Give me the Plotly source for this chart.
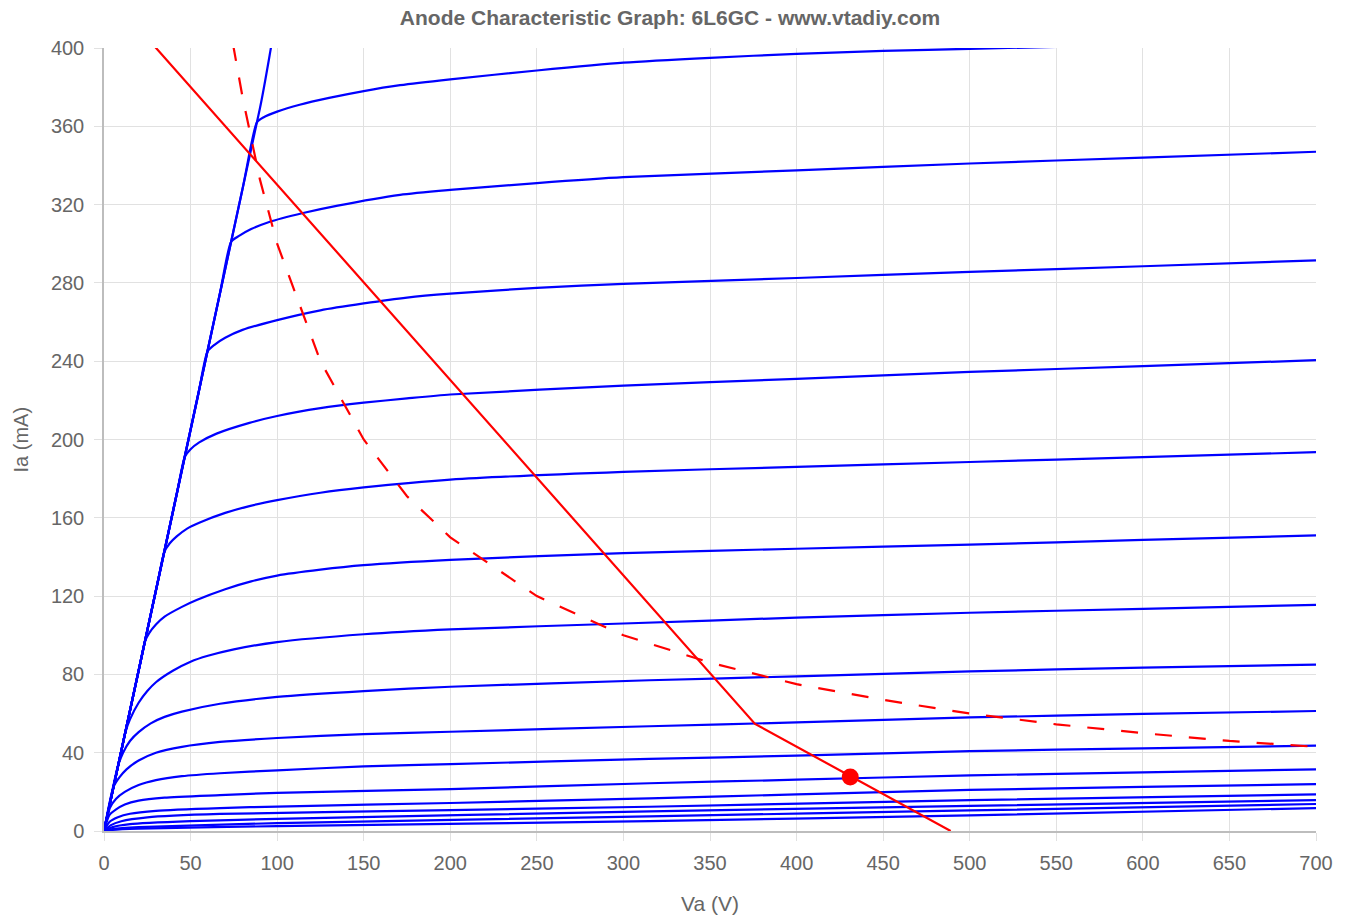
import plotly.graph_objects as go

# ---------------- data ----------------
# anode curves (Va in V, Ia in mA), top to bottom
va_c0 = [0, 90, 110, 130, 200, 700]
ia_c0 = [0, 369, 451, 460, 470, 500]

va_c1 = [0, 80, 88.3, 92, 100, 113, 130, 150, 171, 200, 250, 300, 350, 400, 450, 500, 600, 700]
ia_c1 = [0, 328, 362, 364.5, 367.5, 371, 374.5, 378, 381, 384, 388.5, 392.5, 395, 397, 398.5, 399.6, 401.5, 403.5]

va_c2 = [0, 67, 73.4, 78, 85, 95, 115, 135, 171, 200, 250, 300, 400, 500, 600, 700]
ia_c2 = [0, 275, 301, 304, 307.5, 311, 315.7, 319.5, 325, 327.5, 331, 334, 337.5, 341, 344, 347]

va_c3 = [0, 54, 59.8, 64, 70, 80, 100, 125, 150, 175, 200, 250, 300, 400, 500, 600, 700]
ia_c3 = [0, 221, 245, 248.5, 252, 256, 261, 266, 269.5, 272.5, 274.5, 277.5, 279.5, 282.5, 285.6, 288.5, 291.5]

va_c4 = [0, 42, 46.6, 50, 55, 65, 84, 100, 125, 150, 175, 200, 300, 400, 500, 600, 700]
ia_c4 = [0, 172, 191, 195, 198.5, 203, 208.5, 212, 216, 218.8, 221, 223, 227.5, 231, 234.5, 237.5, 240.5]

va_c5 = [0, 31, 34.8, 38, 42, 48, 55, 70, 84, 100, 125, 150, 200, 300, 400, 500, 600, 700]
ia_c5 = [0, 127, 142.5, 147, 150.5, 154.5, 157.5, 162.5, 166, 169, 172.8, 175.5, 179.5, 183.5, 186, 188.5, 191, 193.5]

va_c6 = [0, 21, 23.7, 26, 30, 35, 45, 53.5, 70, 85, 100, 125, 150, 200, 300, 400, 500, 600, 700]
ia_c6 = [0, 86, 97, 101, 105.5, 109.5, 114.5, 118, 123.5, 127.5, 130.5, 133.5, 135.8, 138.5, 142, 144.2, 146.3, 148.7, 151]

va_c7 = [0, 10.5, 12.2, 15, 20, 25, 30, 40, 50, 60, 75, 100, 150, 200, 300, 400, 500, 600, 700]
ia_c7 = [0, 43, 50, 57, 65.5, 71.5, 76, 82, 86.5, 89.5, 92.8, 96.5, 100.5, 103, 106, 109, 111.5, 113.5, 115.5]

va_c8 = [0, 8, 11, 15, 20, 27, 35, 45, 67, 100, 150, 200, 315, 400, 500, 600, 700]
ia_c8 = [0, 33, 40, 46, 50.5, 55, 58.3, 61, 65, 68.5, 71.5, 73.7, 77, 79, 81.5, 83.5, 85]

va_c9 = [0, 5.5, 9, 13, 20, 30, 45, 67, 100, 150, 200, 315, 400, 500, 600, 700]
ia_c9 = [0, 22.5, 27.5, 31.5, 36, 40, 43, 45.5, 47.5, 49.5, 50.7, 53.5, 55.5, 58, 59.8, 61.3]

va_c10 = [0, 3.5, 7, 12, 20, 30, 45, 67, 100, 150, 200, 315, 400, 500, 600, 700]
ia_c10 = [0, 12, 16.5, 20, 23.5, 26, 28, 29.5, 31, 33, 34.2, 36.8, 38.5, 40.8, 42.2, 43.6]

va_c11 = [0, 3, 7, 12, 20, 35, 67, 100, 200, 315, 400, 500, 600, 700]
ia_c11 = [0, 8, 11, 13.5, 15.5, 17, 18.3, 19.5, 21.4, 24.4, 26.2, 28.4, 30, 31.5]

va_c12 = [0, 3, 8, 15, 30, 67, 100, 200, 315, 400, 500, 600, 700]
ia_c12 = [0, 4.5, 7, 8.8, 10.3, 11.7, 12.5, 14.3, 16.7, 18.7, 21, 22.5, 23.9]

va_c13 = [0, 4, 10, 25, 67, 200, 315, 500, 700]
ia_c13 = [0, 3, 5, 7, 8.7, 10.7, 12.4, 15.8, 18.7]

va_c14 = [0, 5, 15, 50, 100, 315, 500, 700]
ia_c14 = [0, 2, 3.5, 5, 6.2, 10, 12.8, 15.8]

va_c15 = [0, 5, 20, 100, 315, 500, 700]
ia_c15 = [0, 1, 2, 4, 7.5, 10.5, 13.8]

va_c16 = [0, 5, 20, 100, 315, 500, 700]
ia_c16 = [0, 0.6, 1.2, 2.5, 5, 8, 11.7]

anode_va = [va_c0, va_c1, va_c2, va_c3, va_c4, va_c5, va_c6, va_c7, va_c8,
            va_c9, va_c10, va_c11, va_c12, va_c13, va_c14, va_c15, va_c16]
anode_ia = [ia_c0, ia_c1, ia_c2, ia_c3, ia_c4, ia_c5, ia_c6, ia_c7, ia_c8,
            ia_c9, ia_c10, ia_c11, ia_c12, ia_c13, ia_c14, ia_c15, ia_c16]

# load line
load_va = [0, 376, 489]
load_ia = [430, 54.7, 0]

# max dissipation curve (dashed)
pd_va = [74.5, 80, 90, 100, 125, 150, 175, 200, 250, 300, 350, 400, 450, 500, 550, 600, 650, 700]
pd_ia = [402, 375, 333, 300, 240, 200, 171, 150, 120, 100, 86, 75, 67, 60, 54.5, 50, 46, 43]

# operating point
op_va = [431]
op_ia = [27.6]

x_ticks = list(range(0, 701, 50))
y_ticks = list(range(0, 401, 40))

# ---------------- figure ----------------
fig = go.Figure()

for va, ia in zip(anode_va, anode_ia):
    fig.add_trace(go.Scatter(
        x=va, y=ia, mode="lines",
        line=dict(color="#0000ff", width=2.2, shape="spline", smoothing=0.6),
        hoverinfo="skip", showlegend=False))

fig.add_trace(go.Scatter(
    x=load_va, y=load_ia, mode="lines",
    line=dict(color="#ff0000", width=2.2),
    hoverinfo="skip", showlegend=False))

fig.add_trace(go.Scatter(
    x=pd_va, y=pd_ia, mode="lines",
    line=dict(color="#ff0000", width=2.2, dash="17px,17px"),
    hoverinfo="skip", showlegend=False))

fig.add_trace(go.Scatter(
    x=op_va, y=op_ia, mode="markers",
    marker=dict(color="#ff0000", size=17, line=dict(width=0)),
    hoverinfo="skip", showlegend=False))

font_family = "Liberation Sans, Arial, sans-serif"
grid_col = "#e1e1e1"
axis_col = "#bdbdbd"

fig.update_layout(
    width=1352, height=918,
    margin=dict(l=104, r=36, t=48, b=87),
    paper_bgcolor="white", plot_bgcolor="white",
    font=dict(family=font_family, color="#666666", size=20),
    title=dict(text="<b>Anode Characteristic Graph: 6L6GC - www.vtadiy.com</b>",
               x=670 / 1352, xref="container", xanchor="center",
               y=1 - 18 / 918, yref="container", yanchor="middle",
               font=dict(size=21, color="#666666", family=font_family)),
    xaxis=dict(range=[0, 700], tickmode="array", tickvals=x_ticks,
               showgrid=True, gridcolor=grid_col, gridwidth=1,
               zeroline=False, showline=True, linecolor=axis_col, linewidth=1.5,
               mirror=False, ticks="outside", ticklen=8, tickcolor=grid_col,
               tickfont=dict(size=20, color="#666666"), ticklabelstandoff=5),
    yaxis=dict(range=[0, 400], tickmode="array", tickvals=y_ticks,
               showgrid=True, gridcolor=grid_col, gridwidth=1,
               zeroline=False, showline=True, linecolor=axis_col, linewidth=1.5,
               ticks="outside", ticklen=8, tickcolor=grid_col,
               tickfont=dict(size=20, color="#666666"), ticklabelstandoff=6),
    annotations=[
        dict(text="Va (V)", xref="paper", yref="paper", x=0.5, y=0,
             yshift=-72, xanchor="center", yanchor="middle", showarrow=False,
             font=dict(size=21, color="#666666")),
        dict(text="Ia (mA)", xref="paper", yref="paper", x=0, y=0.5,
             xshift=-84, xanchor="center", yanchor="middle", textangle=-90,
             showarrow=False, font=dict(size=20, color="#666666")),
    ],
)

# remove the browser's default 8px body margin so the figure fills the window
fig.write_html("out.html",
               config={"displayModeBar": False},
               post_script="document.body.style.margin='0';document.body.style.overflow='hidden';")
